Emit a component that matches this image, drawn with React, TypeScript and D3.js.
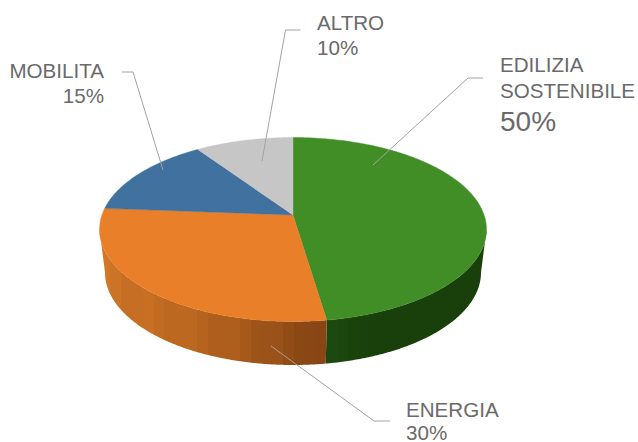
import React from "react";
import * as d3 from "d3";

const categories = ["EDILIZIA SOSTENIBILE", "ENERGIA", "MOBILITA", "ALTRO"];
const values = [50, 30, 15, 10];
const topColors = ["#428e26", "#ea7f2a", "#41729f", "#c6c6c6"];
// side-wall shades, from the slice's first edge to its last edge
const sideStops = [
  ["#1d4b11", "#1a430c", "#193f0a", "#193f0a", "#193f0a", "#193f0a", "#193f0a", "#193f0a"],
  ["#824314", "#9a5218", "#b4621f", "#c26c22", "#cf7628"],
];
const bandJitter = [0, 1];

const W = 638, H = 442;
const cx = 293, cyTop = 229.5, rxTop = 193.5, ryTop = 92;
const cyBot = 272.5, rxBot = 188, ryBot = 92.5;
const apexY = 215;
const persp = 0.853;

// true pie angle -> parametric angle on the tilted ellipse
const warp = (a: number) => {
  const n = Math.round(a / (2 * Math.PI));
  const r = a - n * 2 * Math.PI;
  return 2 * Math.atan(Math.tan(r / 2) * persp) + n * 2 * Math.PI;
};
const top = (p: number): [number, number] => [cx + rxTop * Math.sin(p), cyTop - ryTop * Math.cos(p)];
const bot = (p: number): [number, number] => [cx + rxBot * Math.sin(p), cyBot - ryBot * Math.cos(p)];
const line = d3.line();

const slices = d3.pie<number>().sort(null)(values);

const sweep = (a0: number, a1: number) => {
  const steps = Math.max(2, Math.ceil((a1 - a0) / 0.01));
  return d3.range(steps + 1).map((k) => a0 + ((a1 - a0) * k) / steps);
};

export default function App() {
  const faces: React.ReactNode[] = [];
  const sides: React.ReactNode[] = [];
  const defs: React.ReactNode[] = [];
  slices.forEach((s, i) => {
    const a0 = warp(s.startAngle), a1 = warp(s.endAngle);
    faces.push(
      <path key={categories[i]} d={line([[cx, apexY], ...sweep(a0, a1).map(top)])! + "Z"} fill={topColors[i]} stroke={topColors[i]} strokeWidth={0.4} />
    );
    // only the front half of the wall (a quarter to three quarters of a turn) is visible
    const v0 = Math.max(a0, Math.PI / 2), v1 = Math.min(a1, (3 * Math.PI) / 2);
    if (v1 <= v0 || !sideStops[i]) return;
    const ps = sweep(v0, v1);
    const xs = ps.map((p) => top(p)[0]);
    const [xMin, xMax] = d3.extent(xs) as [number, number];
    const col = d3.interpolateRgbBasis(sideStops[i]);
    const bands = Math.max(1, Math.round((xMax - xMin) / 11));
    const stops: React.ReactNode[] = [];
    for (let b = 0; b < bands; b++) {
      const t = (b + 0.5) / bands;
      const c = d3.rgb(col(i === 1 ? 1 - t : t));
      const j = (b % 4 === 0 ? 4 : b % 4 === 2 ? -3 : 0) * bandJitter[i];
      const hex = d3.rgb(c.r + j, c.g + j * 0.6, c.b + j * 0.3).formatHex();
      stops.push(<stop key={`${b}a`} offset={b / bands} stopColor={hex} />);
      stops.push(<stop key={`${b}b`} offset={(b + 1) / bands} stopColor={hex} />);
    }
    defs.push(
      <linearGradient key={i} id={`side${i}`} gradientUnits="userSpaceOnUse" x1={xMin} x2={xMax} y1={0} y2={0}>
        {stops}
      </linearGradient>
    );
    const poly = [...ps.map(top), ...ps.slice().reverse().map(bot)] as [number, number][];
    sides.push(<path key={i} d={line(poly)! + "Z"} fill={`url(#side${i})`} />);
  });

  const leader = "#a3a3a3";
  const text = "#6a6a6a";
  const leaders: [number, number][][] = [
    [[483, 78], [468, 78], [373, 165]],
    [[390, 421], [374, 421], [271, 346]],
    [[122, 72], [133, 72], [163, 170]],
    [[300.5, 30], [285.5, 30], [262, 161]],
  ];

  return (
    <svg
      width={W}
      height={H}
      viewBox={`0 0 ${W} ${H}`}
      style={{ position: "fixed", left: 0, top: 0, background: "#fff" }}
      fontFamily="'Liberation Sans', Arial, sans-serif"
      fill={text}
    >
      <defs>{defs}</defs>
      {sides}
      {faces}
      {leaders.map((l, i) => (
        <path key={i} d={line(l)!} fill="none" stroke={leader} strokeWidth={1} />
      ))}
      <g fontSize={20.6}>
        <text x={500} y={72}>EDILIZIA</text>
        <text x={500} y={98}>SOSTENIBILE</text>
        <text x={500} y={131} fontSize={28}>{values[0]}%</text>
        <text x={406} y={417}>{categories[1]}</text>
        <text x={406} y={440}>{values[1]}%</text>
        <text x={104} y={78} textAnchor="end">{categories[2]}</text>
        <text x={104} y={103} textAnchor="end">{values[2]}%</text>
        <text x={317} y={30}>{categories[3]}</text>
        <text x={317} y={55}>{values[3]}%</text>
      </g>
    </svg>
  );
}
